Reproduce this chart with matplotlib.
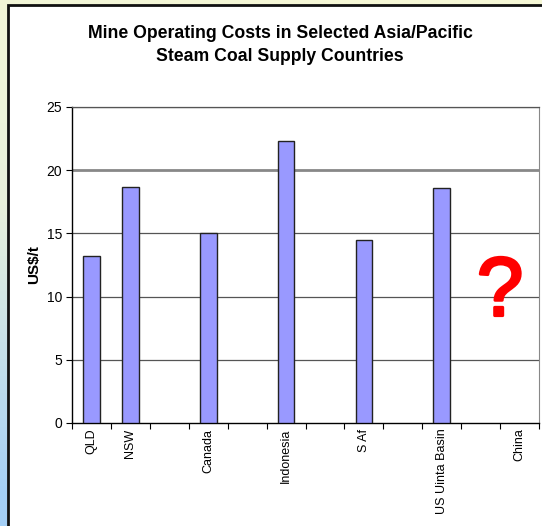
import numpy as np
import matplotlib
matplotlib.use("Agg")
import matplotlib.pyplot as plt
import matplotlib.patheffects as pe
from matplotlib.patches import Rectangle
from matplotlib.colors import LinearSegmentedColormap

plt.rcParams['font.family'] = ['Liberation Sans', 'DejaVu Sans']

# Data
categories = ["QLD", "NSW", "", "Canada", "", "Indonesia", "", "S Af", "", "US Uinta Basin", "", "China"]
costs = [13.2, 18.65, None, 15.0, None, 22.3, None, 14.45, None, 18.6, None, None]
y_ticks = [0, 5, 10, 15, 20, 25]

W, H = 542, 526
fig = plt.figure(figsize=(W / 100, H / 100), dpi=100)

# Gradient backdrop (yellow at top fading to light blue at lower left)
bg = fig.add_axes([0, 0, 1, 1], zorder=-10)
bg.set_axis_off()
yy, xx = np.mgrid[0:1:200j, 0:1:200j]
t = np.clip(yy * 0.9 + (1 - xx) * 0.25 - 0.1, 0, 1)
cmap = LinearSegmentedColormap.from_list("bgfade", ["#F6F8D6", "#E8F1DC", "#A4CFF6"])
bg.imshow(t, cmap=cmap, aspect='auto', extent=[0, 1, 0, 1], origin='upper')
bg.set_xlim(0, 1)
bg.set_ylim(0, 1)

# White chart area with dark border
fig.patches.append(Rectangle((8 / W, -0.05), 1.1, 1.05 - 5 / H, transform=fig.transFigure,
                             facecolor='white', edgecolor='#111111', linewidth=2, zorder=-5))

ax = fig.add_axes([72 / W, (H - 423) / H, (539 - 72) / W, (423 - 107) / H])
ax.set_facecolor('white')

x = np.arange(len(categories))
vals = [v if v is not None else 0 for v in costs]
mask = [v is not None for v in costs]
ax.bar(x[mask], np.array(vals)[mask], width=0.43, color='#9999FF', edgecolor='#222222',
       linewidth=1.0, zorder=3)

ax.set_xlim(-0.5, len(categories) - 0.5)
ax.set_ylim(0, 25)

# Horizontal gridlines
for v in y_ticks[1:]:
    if v == 20:
        ax.axhline(v, color='#888888', linewidth=2.0, zorder=1)
    else:
        ax.axhline(v, color='#555555', linewidth=0.9, zorder=1)

ax.set_yticks(y_ticks)
ax.set_yticklabels([str(v) for v in y_ticks], fontsize=10)
ax.tick_params(axis='y', direction='out', length=4, width=0.8, pad=3, color='black')

ax.set_xticks(x)
ax.set_xticklabels(categories, rotation=90, fontsize=9, va='top', ha='center')
ax.tick_params(axis='x', which='major', length=0, pad=4)
ax.set_xticks(np.arange(-0.5, len(categories), 1.0), minor=True)
ax.tick_params(axis='x', which='minor', direction='out', length=4, width=0.8, color='black')

for side in ('left', 'bottom'):
    ax.spines[side].set_color('black')
    ax.spines[side].set_linewidth(1.0)
ax.spines['right'].set_color('#888888')
ax.spines['top'].set_color('#555555')
ax.spines['top'].set_linewidth(0.9)

ax.set_ylabel("US$/t", fontsize=11, fontweight='bold', labelpad=4)

ax.text(10.5, 8.5, "?", color='#FF0000', fontsize=60, ha='center', va='baseline', zorder=4,
        path_effects=[pe.withStroke(linewidth=2.2, foreground='#FF0000')])

fig.text(280 / W, 1 - 45 / H,
         "Mine Operating Costs in Selected Asia/Pacific\nSteam Coal Supply Countries",
         ha='center', va='center', fontsize=12.7, fontweight='bold', linespacing=1.5)

fig.savefig("out.png", dpi=100)
